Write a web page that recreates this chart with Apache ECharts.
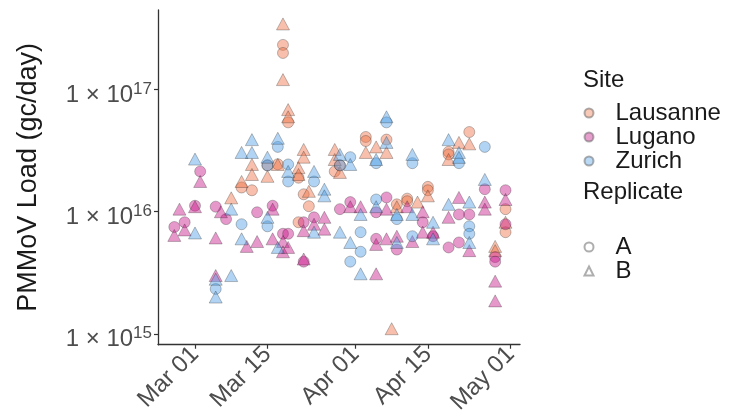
<!DOCTYPE html>
<html>
<head>
<meta charset="utf-8">
<script src="https://cdn.jsdelivr.net/npm/echarts@6/dist/echarts.min.js"></script>
<style>
html,body{margin:0;padding:0;background:#fff;}
#chart{width:736px;height:417px;}
</style>
</head>
<body>
<div id="chart"></div>
<script>
// ---- data (dates, PMMoV load gc/day) ----
const lausanneA = [
["2021-03-10",1.58e16],["2021-03-12",1.5e16],["2021-03-15",2.4e16],["2021-03-17",2.45e16],
["2021-03-18",2.33e17],["2021-03-18",2.0e17],["2021-03-19",5.4e16],["2021-03-21",1.9e16],
["2021-03-21",8.2e15],["2021-03-22",1.39e16],["2021-03-23",1.11e16],["2021-03-28",2.14e16],
["2021-03-29",2.4e16],["2021-04-03",4.1e16],["2021-04-03",3.8e16],["2021-04-07",3.9e16],
["2021-04-09",1.15e16],["2021-04-11",1.28e16],["2021-04-11",1.22e16],["2021-04-15",1.6e16],
["2021-04-15",1.5e16],["2021-04-19",3.1e16],["2021-04-19",2.95e16],["2021-04-23",4.5e16],
["2021-04-30",1.05e16],["2021-04-30",6.8e15]
];
const lausanneB = [
["2021-03-08",1.3e16],["2021-03-10",1.77e16],["2021-03-12",2.44e16],["2021-03-12",2.02e16],
["2021-03-15",1.95e16],["2021-03-17",2.44e16],["2021-03-18",3.46e17],["2021-03-18",1.21e17],
["2021-03-19",6.87e16],["2021-03-19",6.0e16],["2021-03-21",2.3e16],["2021-03-21",2.02e16],
["2021-03-22",3.24e16],["2021-03-22",2.8e16],["2021-03-23",1.47e16],["2021-03-28",3.24e16],
["2021-03-28",2.68e16],["2021-03-29",2.1e16],["2021-04-03",3.06e16],["2021-04-05",3.4e16],
["2021-04-07",3.06e16],["2021-04-08",1.1e15],["2021-04-09",1.1e16],["2021-04-13",1.2e16],
["2021-04-15",1.35e16],["2021-04-19",2.68e16],["2021-04-21",3.7e16],["2021-04-23",3.6e16],
["2021-04-28",5.2e15],["2021-04-28",4.8e15],["2021-04-30",8.2e15]
];
const luganoA = [
["2021-02-25",7.5e15],["2021-02-27",8.2e15],["2021-03-01",1.12e16],["2021-03-02",2.14e16],
["2021-03-05",1.1e16],["2021-03-07",8.7e15],["2021-03-13",9.9e15],["2021-03-16",1.12e16],
["2021-03-18",6.6e15],["2021-03-19",6.6e15],["2021-03-22",8.2e15],["2021-03-22",3.9e15],
["2021-03-24",9.0e15],["2021-03-29",1.05e16],["2021-03-31",1.2e16],["2021-04-05",9.9e15],
["2021-04-05",6.0e15],["2021-04-07",1.31e16],["2021-04-09",4.9e15],["2021-04-14",8.2e15],
["2021-04-16",6.3e15],["2021-04-19",5.1e15],["2021-04-21",9.5e15],["2021-04-21",5.6e15],
["2021-04-23",9.5e15],["2021-04-26",1.53e16],["2021-04-28",4.25e15],["2021-04-28",3.9e15],
["2021-04-30",1.5e16],["2021-04-30",7.9e15]
];
const luganoB = [
["2021-02-25",6.4e15],["2021-02-26",1.05e16],["2021-02-27",7.1e15],["2021-03-01",1.1e16],
["2021-03-02",1.77e16],["2021-03-05",6.1e15],["2021-03-05",3.0e15],["2021-03-06",1.0e16],
["2021-03-11",5.2e15],["2021-03-13",5.7e15],["2021-03-16",1.05e16],["2021-03-16",6.0e15],
["2021-03-18",5.7e15],["2021-03-18",4.7e15],["2021-03-19",5.1e15],["2021-03-22",4.1e15],
["2021-03-22",7.0e15],["2021-03-24",7.9e15],["2021-03-26",9.0e15],["2021-03-26",7.2e15],
["2021-03-31",1.1e16],["2021-04-02",1.1e16],["2021-04-05",5.4e15],["2021-04-05",3.1e15],
["2021-04-07",6.0e15],["2021-04-07",1.05e16],["2021-04-09",6.3e15],["2021-04-11",1.1e16],
["2021-04-12",5.7e15],["2021-04-14",1.0e16],["2021-04-14",6.8e15],["2021-04-16",6.8e15],
["2021-04-19",9.0e15],["2021-04-21",1.31e16],["2021-04-23",4.8e15],["2021-04-26",1.2e16],
["2021-04-26",1.05e16],["2021-04-28",2.7e15],["2021-04-28",1.86e15],["2021-04-30",1.26e16]
];
const zurichA = [
["2021-03-05",2.33e15],["2021-03-10",7.9e15],["2021-03-15",2.4e16],["2021-03-15",7.6e15],
["2021-03-17",3.4e16],["2021-03-19",2.44e16],["2021-03-19",1.77e16],["2021-03-24",1.77e16],
["2021-03-29",2.4e16],["2021-03-31",2.8e16],["2021-03-31",3.9e15],["2021-04-02",6.8e15],
["2021-04-02",4.7e15],["2021-04-05",2.5e16],["2021-04-05",1.26e16],["2021-04-07",5.4e16],
["2021-04-09",8.7e15],["2021-04-12",2.5e16],["2021-04-12",6.3e15],["2021-04-21",2.5e16],
["2021-04-23",7.6e15],["2021-04-23",6.6e15],["2021-04-26",3.4e16]
];
const zurichB = [
["2021-03-01",2.7e16],["2021-03-01",6.7e15],["2021-03-05",2.8e15],["2021-03-05",2.0e15],
["2021-03-08",1.05e16],["2021-03-08",3.0e15],["2021-03-10",3.06e16],["2021-03-10",6.0e15],
["2021-03-12",3.9e16],["2021-03-12",3.06e16],["2021-03-15",2.8e16],["2021-03-15",9.0e15],
["2021-03-17",4.0e16],["2021-03-17",5.1e15],["2021-03-19",2.14e16],["2021-03-24",2.14e16],
["2021-03-24",6.8e15],["2021-03-26",1.53e16],["2021-03-26",1.35e16],["2021-03-29",2.95e16],
["2021-03-29",6.8e15],["2021-03-31",2.44e16],["2021-03-31",5.6e15],["2021-04-02",9.5e15],
["2021-04-02",3.1e15],["2021-04-05",2.68e16],["2021-04-05",1.1e16],["2021-04-07",6.0e16],
["2021-04-07",3.7e16],["2021-04-09",9.5e15],["2021-04-09",5.6e15],["2021-04-12",2.95e16],
["2021-04-12",9.5e15],["2021-04-16",8.2e15],["2021-04-16",6.0e15],["2021-04-19",3.9e16],
["2021-04-19",1.15e16],["2021-04-21",3.06e16],["2021-04-21",2.79e16],["2021-04-23",1.2e16],
["2021-04-23",5.6e15],["2021-04-26",1.84e16]
];
const sites = ["Lausanne","Lugano","Zurich"];
const replicates = ["A","B"];
const xTickDates = ["2021-03-01","2021-03-15","2021-04-01","2021-04-15","2021-05-01"];
const xTickLabels = ["Mar 01","Mar 15","Apr 01","Apr 15","May 01"];
const yTickValues = [1e15,1e16,1e17];

// ---- helpers ----
const BASE = Date.parse("2021-03-01");
const toDay = d => (Date.parse(d) - BASE) / 86400000;
const conv = arr => arr.map(p => [toDay(p[0]), p[1]]);
const xTickDays = xTickDates.map(toDay);

const FONT = '"Liberation Sans", Arial, Helvetica, sans-serif';
const siteColor = {
  Lausanne: 'rgba(240,112,66,0.55)',
  Lugano: 'rgba(200,21,137,0.55)',
  Zurich: 'rgba(78,156,230,0.55)'
};
const siteLegendColor = {Lausanne:'#f8bba5', Lugano:'#e086c1', Zurich:'#a9cff2'};
const BORDER = 'rgba(30,30,30,0.45)';

function mk(name, site, rep, arr){
  return {
    name: name, type: 'scatter', data: conv(arr),
    symbol: rep === 'A' ? 'circle' : 'triangle',
    symbolSize: rep === 'A' ? 11 : [13, 12],
    itemStyle: {color: siteColor[site], borderColor: BORDER, borderWidth: 0.8},
    emphasis: {disabled: true}, silent: true
  };
}
const series = [
  mk('Lausanne A','Lausanne','A',lausanneA), mk('Lausanne B','Lausanne','B',lausanneB),
  mk('Lugano A','Lugano','A',luganoA), mk('Lugano B','Lugano','B',luganoB),
  mk('Zurich A','Zurich','A',zurichA), mk('Zurich B','Zurich','B',zurichB)
];
// legend-only dummy series
sites.forEach(s => series.push({name: s, type: 'scatter', data: [], symbol: 'circle',
  itemStyle: {color: siteLegendColor[s], borderColor: 'rgba(90,90,90,0.6)', borderWidth: 0.6}}));
replicates.forEach(r => series.push({name: r, type: 'scatter', data: [],
  symbol: r === 'A' ? 'circle' : 'triangle',
  itemStyle: {color: '#ffffff', borderColor: '#9a9a9a', borderWidth: 1}}));

const legendText = {fontSize: 24, lineHeight: 23.5, color: '#1a1a1a', fontFamily: FONT, padding: [0, 0, 0, 17]};
const chart = echarts.init(document.getElementById('chart'), null, {renderer: 'canvas'});
chart.setOption({
  animation: false,
  backgroundColor: '#ffffff',
  textStyle: {fontFamily: FONT},
  grid: {left: 158, top: 10, right: 216, bottom: 71, containLabel: false},
  title: [
    {text: 'Site', left: 583, top: 68, padding: 0,
     textStyle: {fontSize: 24, fontWeight: 'normal', color: '#1a1a1a', fontFamily: FONT}},
    {text: 'Replicate', left: 583, top: 180, padding: 0,
     textStyle: {fontSize: 24, fontWeight: 'normal', color: '#1a1a1a', fontFamily: FONT}}
  ],
  legend: [
    {data: sites.map(s => ({name: s, icon: 'circle'})), orient: 'vertical', align: 'left',
     left: 583.5, top: 101, padding: 0, itemGap: 0, itemWidth: 9, itemHeight: 9,
     symbolKeepAspect: true, selectedMode: false, textStyle: legendText},
    {data: [{name: 'A', icon: 'circle'}, {name: 'B', icon: 'triangle'}], orient: 'vertical', align: 'left',
     left: 583.5, top: 235, padding: 0, itemGap: 0, itemWidth: 9, itemHeight: 9,
     symbolKeepAspect: true, selectedMode: false, textStyle: legendText}
  ],
  xAxis: {
    type: 'value', min: -7.15, max: 62.8,
    splitLine: {show: false},
    axisLine: {show: true, onZero: false, lineStyle: {color: '#333333', width: 1.3}},
    axisTick: {show: true, length: 4, customValues: xTickDays, lineStyle: {color: '#333333', width: 1.2}},
    axisLabel: {
      customValues: xTickDays, rotate: 45, margin: 6, fontSize: 24, color: '#4d4d4d', fontFamily: FONT,
      formatter: v => { const i = xTickDays.findIndex(d => Math.abs(d - v) < 0.01); return i >= 0 ? xTickLabels[i] : ''; }
    }
  },
  yAxis: {
    type: 'log', logBase: 10, min: 8.13e14, max: 4.5e17,
    name: 'PMMoV Load (gc/day)', nameLocation: 'middle', nameGap: 116,
    nameTextStyle: {fontSize: 27, color: '#1a1a1a', fontFamily: FONT},
    splitLine: {show: false},
    axisLine: {show: true, onZero: false, lineStyle: {color: '#333333', width: 1.3}},
    axisTick: {show: true, length: 4, customValues: yTickValues, lineStyle: {color: '#333333', width: 1.2}},
    axisLabel: {
      customValues: yTickValues, margin: 6, color: '#4d4d4d', fontFamily: FONT,
      formatter: v => '{b|1 × 10}{s|' + Math.round(Math.log10(v)) + '}',
      rich: {
        b: {fontSize: 24, color: '#4d4d4d', fontFamily: FONT, verticalAlign: 'bottom', lineHeight: 24},
        s: {fontSize: 17, color: '#4d4d4d', fontFamily: FONT, verticalAlign: 'middle', lineHeight: 36}
      }
    }
  },
  series: series
});
</script>
</body>
</html>
